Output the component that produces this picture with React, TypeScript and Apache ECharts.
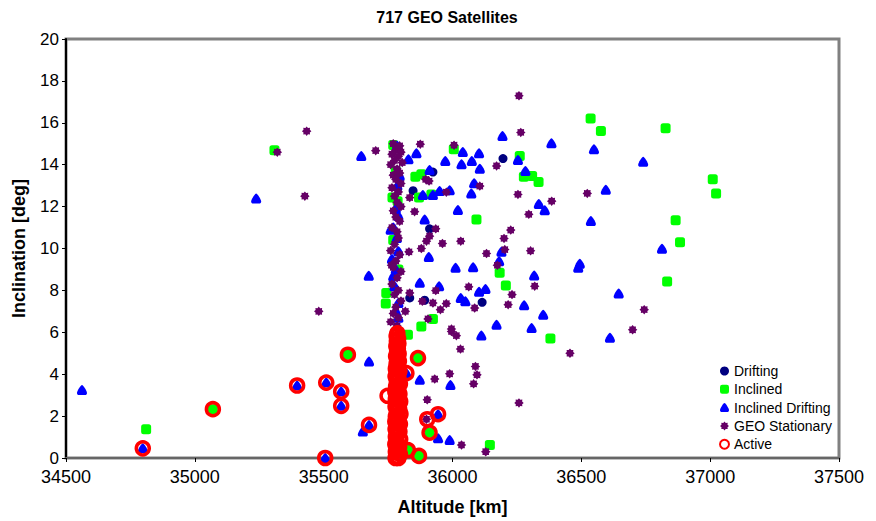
import React, { useEffect, useRef } from "react";
import * as echarts from "echarts";

const chartTitle = "717 GEO Satellites";
const xName = "Altitude [km]";
const yName = "Inclination [deg]";
const seriesNames = ["Drifting", "Inclined", "Inclined Drifting", "GEO Stationary", "Active"];

const drifting: number[][] = [
  [36196, 14.29], [35924, 13.65], [35847, 12.76], [35911, 10.94], [35834, 7.64], [36115, 7.43], [35892, 7.53],
];

const inclined: number[][] = [
  [34811, 1.37], [35070, 2.33], [35594, 4.93], [35866, 4.77], [35911, 1.21], [35827, 0.38], [35870, 0.1],
  [36145, 0.62], [35879, 6.28], [35924, 6.64], [35827, 5.88], [35743, 7.88], [35741, 7.37], [36183, 8.84],
  [36207, 8.23], [36093, 11.39], [35856, 13.43], [35879, 13.54], [35870, 12.43], [35918, 12.58], [36005, 14.74],
  [36261, 14.42], [36277, 13.43], [36309, 13.46], [36334, 13.17], [36536, 16.2], [36576, 15.61], [36827, 15.74],
  [37010, 13.3], [37023, 12.62], [36866, 11.35], [36883, 10.3], [36833, 8.42], [36380, 5.7], [35309, 14.69],
  [35770, 14.94], [35780, 13.7], [35767, 12.43], [35787, 12.26], [35770, 10.4], [35790, 9.0],
];

const inclinedDrifting: number[][] = [
  [34562, 3.25], [34798, 0.46], [35238, 12.39], [35397, 3.46], [35510, 3.6], [35568, 3.17], [35568, 2.49],
  [35506, 0], [35676, 1.58], [35652, 1.26], [35676, 4.61], [35821, 4.05], [35873, 3.73], [35944, 2.09],
  [35944, 0.94], [35989, 0.86], [35992, 3.49], [36112, 5.85], [36171, 6.36], [36278, 7.29], [36307, 6.21],
  [36352, 6.84], [36032, 7.64], [36050, 7.48], [36103, 7.93], [36128, 8.07], [36645, 7.85], [35948, 8.2],
  [35873, 8.36], [36317, 8.71], [36012, 9.08], [36080, 9.11], [36494, 9.27], [36488, 9.08], [36181, 9.39],
  [36190, 9.84], [35908, 9.6], [36813, 9.99], [35892, 11.39], [36021, 11.84], [36537, 11.31], [36335, 12.13],
  [36358, 11.83], [36595, 12.81], [36084, 13.11], [36073, 12.63], [35885, 12.55], [35924, 12.55], [35950, 12.74],
  [35989, 12.78], [35911, 13.75], [35829, 14.26], [35860, 14.55], [35972, 14.18], [36035, 14.02], [36040, 14.61],
  [36075, 14.18], [36103, 14.55], [36106, 13.81], [36194, 15.37], [36254, 14.22], [36283, 13.7], [36384, 15.02],
  [36549, 14.74], [36740, 14.14], [35646, 14.42], [35675, 8.7], [36611, 5.74],
  [35785, 14.9], [35795, 13.46], [35786, 12.98], [35780, 11.9], [35790, 11.55], [35770, 11.0], [35760, 10.9],
  [35784, 10.5], [35790, 9.87], [35780, 9.0], [35770, 8.67], [35790, 7.4], [35780, 7.0], [35790, 6.7],
  [35775, 8.2], [35765, 9.5],
];

const geoStationary: number[][] = [
  [35702, 14.67], [35875, 14.98], [36006, 14.93], [36171, 13.94], [36258, 17.29], [36265, 15.54], [35896, 13.3],
  [35909, 13.22], [36106, 12.98], [35976, 12.69], [36254, 12.58], [36523, 12.63], [36385, 12.26], [36296, 11.63],
  [35834, 12.43], [35853, 11.76], [36226, 10.88], [36200, 10.48], [35935, 10.94], [35911, 10.59], [35899, 10.35],
  [35961, 10.24], [36032, 10.35], [35879, 10.0], [35831, 9.84], [36132, 9.76], [36203, 9.95], [36303, 9.89],
  [36174, 9.2], [35763, 9.2], [36319, 8.2], [36063, 8.17], [36231, 7.8], [35935, 7.99], [35834, 7.88],
  [36086, 7.16], [36216, 7.32], [36744, 7.08], [35883, 7.48], [35924, 7.4], [35976, 7.37], [35953, 7.08],
  [35905, 6.64], [35996, 6.16], [36699, 6.12], [35817, 7.0], [35996, 6.04], [36015, 5.84], [36031, 5.2],
  [35931, 3.77], [35989, 4.02], [36089, 4.37], [36095, 3.97], [36082, 3.54], [35902, 2.78], [35899, 1.85],
  [36035, 0.62], [36129, 0.3], [35481, 7.0], [35320, 14.6], [35434, 15.6], [35427, 12.5], [36258, 2.63],
  [36456, 5.0],
  [35770, 15.0], [35795, 14.9], [35780, 14.7], [35800, 14.6], [35765, 14.5], [35790, 14.4], [35775, 14.2],
  [35805, 14.1], [35760, 14.0], [35785, 13.8], [35795, 13.6], [35770, 13.5], [35780, 13.3], [35800, 13.1],
  [35765, 12.9], [35790, 12.7], [35775, 12.5], [35785, 12.2], [35800, 12.0], [35770, 11.8], [35780, 11.5],
  [35795, 11.3], [35765, 11.0], [35785, 10.8], [35790, 10.5], [35775, 10.2], [35760, 9.9], [35795, 9.7],
  [35780, 9.4], [35770, 9.1], [35800, 8.9], [35785, 8.6], [35765, 8.3], [35790, 8.0], [35775, 7.8],
  [35800, 7.5], [35780, 7.2], [35770, 6.9], [35790, 6.7], [35760, 6.5], [35785, 6.3], [35795, 6.0],
];

const active: number[][] = [
  [34798, 0.46], [35070, 2.33], [35397, 3.46], [35510, 3.6], [35568, 3.17], [35568, 2.49], [35506, 0],
  [35594, 4.93], [35676, 1.58], [35821, 4.05], [35866, 4.77], [35944, 2.09], [35902, 1.85], [35911, 1.21],
  [35827, 0.38], [35870, 0.1], [35748, 2.97],
  [35786, 5.95], [35783, 5.82], [35789, 5.7], [35784, 5.58], [35790, 5.46], [35782, 5.34], [35788, 5.22],
  [35785, 5.1], [35791, 4.98], [35781, 4.86], [35787, 4.74], [35792, 4.62], [35783, 4.5], [35789, 4.38],
  [35780, 4.26], [35794, 4.14], [35786, 4.02], [35779, 3.9], [35791, 3.78], [35784, 3.66], [35796, 3.54],
  [35781, 3.42], [35789, 3.3], [35778, 3.18], [35794, 3.06], [35785, 2.94], [35780, 2.82], [35797, 2.7],
  [35786, 2.58], [35779, 2.46], [35793, 2.34], [35784, 2.22], [35798, 2.1], [35780, 1.98], [35790, 1.86],
  [35778, 1.74], [35796, 1.62], [35785, 1.5], [35779, 1.38], [35794, 1.26], [35786, 1.14], [35780, 1.02],
  [35797, 0.9], [35784, 0.78], [35778, 0.66], [35793, 0.54], [35786, 0.42], [35780, 0.3], [35796, 0.18],
  [35784, 0.06], [35790, 0.0], [35779, 0.0],
];

const xMin = 34500;
const xMax = 37500;
const xStep = 500;
const yMin = 0;
const yMax = 20;
const yStep = 2;

const FONT = "'Liberation Sans', Arial, sans-serif";
const bellPath =
  "path://M50,0 C62,0 100,60 100,80 C100,94 92,100 80,100 L20,100 C8,100 0,94 0,80 C0,60 38,0 50,0 Z";
const starPath =
  "path://M100,50 L83.3,63.8 L85.4,85.4 L63.8,83.3 L50,100 L36.2,83.3 L14.6,85.4 L16.7,63.8 L0,50 L16.7,36.2 L14.6,14.6 L36.2,16.7 L50,0 L63.8,16.7 L85.4,14.6 L83.3,36.2 Z";

export default function App() {
  const ref = useRef<HTMLDivElement>(null);
  useEffect(() => {
    const chart = echarts.init(ref.current!, null, { renderer: "svg" });
    chart.setOption({
      animation: false,
      backgroundColor: "#ffffff",
      textStyle: { fontFamily: FONT },
      graphic: [
        {
          type: "text",
          x: 447,
          y: 17,
          style: {
            text: chartTitle,
            font: `bold 16px ${FONT}`,
            fill: "#000",
            textAlign: "center",
            textVerticalAlign: "middle",
          },
        },
      ],
      legend: {
        orient: "vertical",
        left: 719,
        top: 364,
        itemWidth: 9,
        itemHeight: 9,
        itemGap: 4.3,
        padding: 0,
        textStyle: { fontSize: 14, color: "#000", fontFamily: FONT, lineHeight: 14 },
        data: seriesNames,
      },
      grid: {
        left: 66,
        right: 37,
        top: 39,
        bottom: 63,
        show: true,
        borderColor: "#808080",
        borderWidth: 3,
        backgroundColor: "#ffffff",
      },
      xAxis: {
        type: "value",
        min: xMin,
        max: xMax,
        interval: xStep,
        name: xName,
        nameLocation: "middle",
        nameGap: 40,
        nameTextStyle: { fontSize: 18, fontWeight: "bold", color: "#000", fontFamily: FONT },
        axisLine: { show: true, lineStyle: { color: "#666", width: 2 } },
        axisTick: { show: true, length: 4, lineStyle: { color: "#000" } },
        axisLabel: {
          fontSize: 18,
          lineHeight: 14,
          color: "#000",
          margin: 12,
          fontFamily: FONT,
          formatter: (v: number) => String(v),
        },
        splitLine: { show: false },
      },
      yAxis: {
        type: "value",
        min: yMin,
        max: yMax,
        interval: yStep,
        name: yName,
        nameLocation: "middle",
        nameGap: 38,
        nameTextStyle: { fontSize: 18, fontWeight: "bold", color: "#000", fontFamily: FONT },
        axisLine: { show: true, lineStyle: { color: "#000", width: 2 } },
        axisTick: { show: true, length: 4, lineStyle: { color: "#000" } },
        axisLabel: { fontSize: 17, lineHeight: 13, color: "#000", margin: 7, fontFamily: FONT },
        splitLine: { show: false },
      },
      series: [
        {
          name: seriesNames[0],
          type: "scatter",
          data: drifting,
          symbol: "circle",
          symbolSize: 9,
          itemStyle: { color: "#000080", opacity: 1 },
        },
        {
          name: seriesNames[1],
          type: "scatter",
          data: inclined,
          symbol: "roundRect",
          symbolSize: 10,
          itemStyle: { color: "#00FF00", opacity: 1 },
        },
        {
          name: seriesNames[2],
          type: "scatter",
          data: inclinedDrifting,
          symbol: bellPath,
          symbolSize: 10,
          itemStyle: { color: "#0000FF", opacity: 1 },
        },
        {
          name: seriesNames[3],
          type: "scatter",
          data: geoStationary,
          symbol: starPath,
          symbolSize: 9.5,
          itemStyle: { color: "#660066", opacity: 1 },
        },
        {
          name: seriesNames[4],
          type: "scatter",
          data: active,
          symbol: "circle",
          symbolSize: 13,
          clip: false,
          itemStyle: { color: "rgba(255,255,255,0)", borderColor: "#FF0000", borderWidth: 3.5, opacity: 1 },
        },
      ],
    });
    return () => chart.dispose();
  }, []);
  return (
    <div
      ref={ref}
      style={{ position: "absolute", left: 0, top: 0, width: 876, height: 521, background: "#fff" }}
    />
  );
}
